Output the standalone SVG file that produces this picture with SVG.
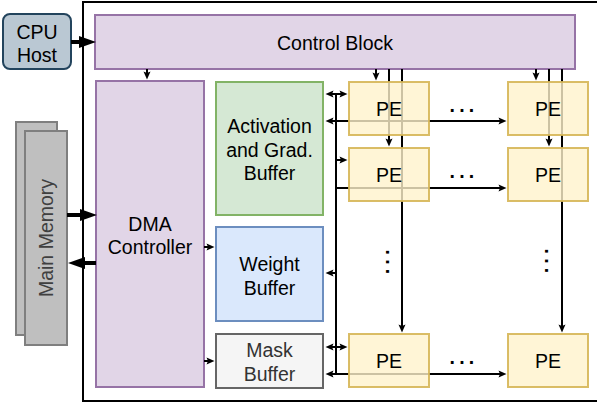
<svg xmlns="http://www.w3.org/2000/svg" width="597" height="409" viewBox="0 0 597 409">
<style>
text{font-family:"Liberation Sans",Arial,sans-serif;font-size:19.5px;fill:#000;text-anchor:middle;dominant-baseline:central}
.c{fill:none;stroke:#000;stroke-width:2}
.big{fill:none;stroke:#000;stroke-width:4}
.pe rect{fill:#fff2cc;fill-opacity:0.8;stroke:#d6b656;stroke-opacity:0.9;stroke-width:2}
.dots{dominant-baseline:alphabetic;font-weight:bold;letter-spacing:4.3px}
</style>
<defs>
<marker id="a" markerUnits="userSpaceOnUse" markerWidth="10" markerHeight="8" refX="1.5" refY="3.5" orient="auto-start-reverse" overflow="visible">
<path d="M0,0 L8,3.5 L0,7 L1.5,3.5 z" fill="#000"/>
</marker>
<marker id="b" markerUnits="userSpaceOnUse" markerWidth="18" markerHeight="12" refX="1" refY="6" orient="auto" overflow="visible">
<path d="M0,0 L17,6 L0,12 z" fill="#000"/>
</marker>
</defs>
<rect x="83" y="2" width="600" height="399" fill="#fff" stroke="#000" stroke-width="2"/>

<g id="main-memory">
<rect x="16" y="122" width="41" height="213" fill="#bfbfbf" stroke="#7f7f7f" stroke-width="2"/>
<rect x="25" y="131" width="42" height="214" fill="#bfbfbf" stroke="#7f7f7f" stroke-width="2"/>
<text transform="translate(46,238) rotate(-90)" style="fill:#404040">Main Memory</text>
</g>

<g id="cpu-host">
<rect x="3" y="14" width="68" height="55" rx="7" fill="#bac8d3" stroke="#23445d" stroke-width="2"/>
<text x="37" y="32">CPU</text>
<text x="37" y="55">Host</text>
</g>

<g id="control-block">
<rect x="95" y="15" width="480" height="54" fill="#e1d5e7" stroke="#9673a6" stroke-width="2"/>
<text x="335" y="43">Control Block</text>
</g>

<g id="dma-controller">
<rect x="96" y="81" width="108" height="306" fill="#e1d5e7" stroke="#9673a6" stroke-width="2"/>
<text x="150" y="224">DMA</text>
<text x="150" y="247">Controller</text>
</g>

<g id="activation-buffer">
<rect x="216" y="82" width="107" height="133" fill="#d5e8d4" stroke="#82b366" stroke-width="2"/>
<text x="269.5" y="126">Activation</text>
<text x="269.5" y="150">and Grad.</text>
<text x="269.5" y="173">Buffer</text>
</g>

<g id="weight-buffer">
<rect x="216" y="227" width="107" height="94" fill="#dae8fc" stroke="#6c8ebf" stroke-width="2"/>
<text x="269.5" y="264">Weight</text>
<text x="269.5" y="288">Buffer</text>
</g>

<g id="mask-buffer">
<rect x="216" y="334" width="107" height="54" fill="#f5f5f5" stroke="#666666" stroke-width="2"/>
<text x="269.5" y="350" style="fill:#333">Mask</text>
<text x="269.5" y="374" style="fill:#333">Buffer</text>
</g>

<g id="connectors">
<line class="big" x1="71" y1="42" x2="80" y2="42" marker-end="url(#b)"/>
<line class="big" x1="67" y1="215" x2="81" y2="215" marker-end="url(#b)"/>
<line class="big" x1="96" y1="263" x2="84" y2="263" marker-end="url(#b)"/>
<line class="c" x1="147" y1="69" x2="147" y2="73" marker-end="url(#a)"/>
<line class="c" x1="204" y1="247" x2="208" y2="247" marker-end="url(#a)"/>
<line class="c" x1="204" y1="361" x2="208" y2="361" marker-end="url(#a)"/>
<!-- control to PE columns -->
<line class="c" x1="376" y1="69" x2="376" y2="74" marker-end="url(#a)"/>
<line class="c" x1="389" y1="69" x2="389" y2="140" marker-end="url(#a)"/>
<line class="c" x1="402" y1="69" x2="402" y2="326" marker-end="url(#a)"/>
<line class="c" x1="536" y1="69" x2="536" y2="74" marker-end="url(#a)"/>
<line class="c" x1="549" y1="69" x2="549" y2="140" marker-end="url(#a)"/>
<line class="c" x1="562" y1="69" x2="562" y2="326" marker-end="url(#a)"/>
<!-- bus -->
<line class="c" x1="336" y1="94" x2="336" y2="374"/>
<line class="c" x1="332" y1="94" x2="341" y2="94" marker-start="url(#a)" marker-end="url(#a)"/>
<line class="c" x1="332" y1="121" x2="500" y2="121" marker-start="url(#a)" marker-end="url(#a)"/>
<line class="c" x1="336" y1="160" x2="341" y2="160" marker-end="url(#a)"/>
<line class="c" x1="335" y1="188" x2="500" y2="188" marker-end="url(#a)"/>
<line class="c" x1="337" y1="273" x2="332" y2="273" marker-end="url(#a)"/>
<line class="c" x1="332" y1="347" x2="341" y2="347" marker-start="url(#a)" marker-end="url(#a)"/>
<line class="c" x1="332" y1="374" x2="500" y2="374" marker-start="url(#a)" marker-end="url(#a)"/>
</g>

<g id="pe-0-0" class="pe"><rect x="349" y="82" width="80" height="53"/><text x="389" y="109">PE</text></g>
<g id="pe-0-1" class="pe"><rect x="508" y="82" width="80" height="53"/><text x="548" y="109">PE</text></g>
<g id="pe-1-0" class="pe"><rect x="349" y="148" width="80" height="53"/><text x="389" y="175">PE</text></g>
<g id="pe-1-1" class="pe"><rect x="508" y="148" width="80" height="53"/><text x="548" y="175">PE</text></g>
<g id="pe-2-0" class="pe"><rect x="349" y="334" width="80" height="53"/><text x="389" y="361">PE</text></g>
<g id="pe-2-1" class="pe"><rect x="508" y="334" width="80" height="53"/><text x="548" y="361">PE</text></g>

<g id="ellipses">
<text class="dots" x="464" y="112">...</text>
<text class="dots" x="464" y="178">...</text>
<text class="dots" x="464" y="364">...</text>
<text class="dots" transform="translate(387,262) rotate(90)" x="2" y="1.5">...</text>
<text class="dots" transform="translate(546,261) rotate(90)" x="2" y="1.5">...</text>
</g>
</svg>
